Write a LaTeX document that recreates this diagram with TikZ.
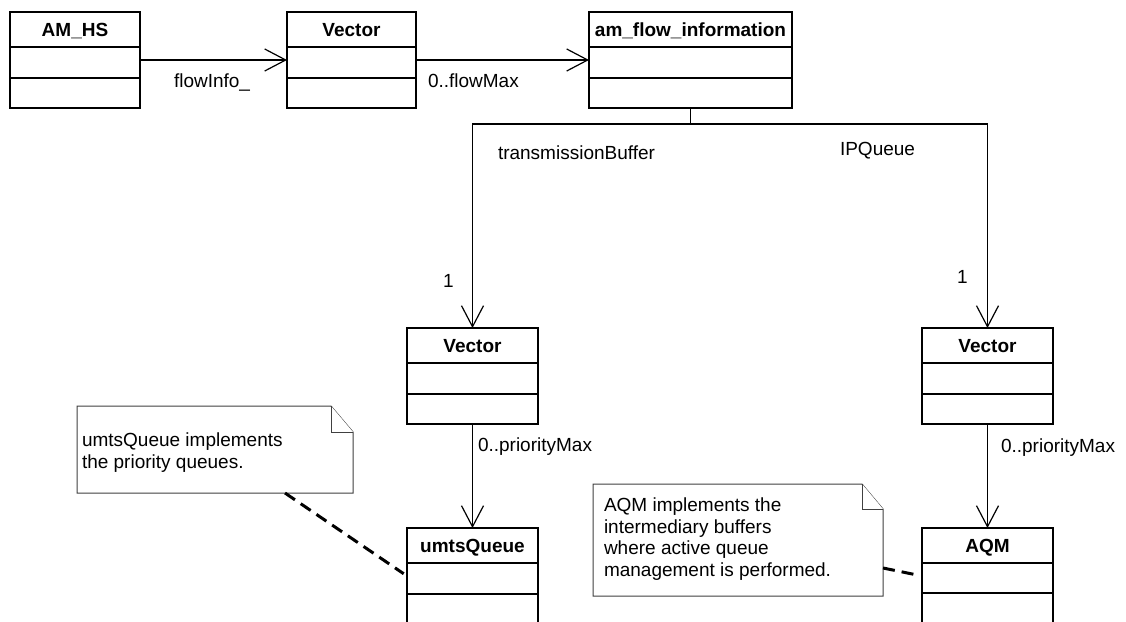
\documentclass[tikz,border=0pt]{standalone}
\usepackage{fontspec}
\setmainfont{Liberation Sans}
\usetikzlibrary{arrows.meta}
\tikzset{
  every node/.style={font=\fontsize{19}{21.5}\selectfont, inner sep=0pt, outer sep=0pt},
  clsbox/.style={draw=black, line width=2pt, fill=white, minimum height=96pt},
  clstitle/.style={font=\fontsize{19}{21.5}\selectfont\bfseries, anchor=base},
  clsline/.style={draw=black, line width=2pt},
  assoc/.style={draw=black, line width=1.2pt, -{Straight Barb[length=21pt,width=22pt]}},
  plainln/.style={draw=black, line width=1.2pt},
  lbl/.style={anchor=base west},
  notebox/.style={draw=none},
  noteln/.style={draw=black!75, line width=1pt, fill=white},
  notetxt/.style={anchor=north west, align=left},
  dashln/.style={draw=black, line width=3pt, dash pattern=on 12pt off 7pt},
}
\newcommand\umlcls[6]{%
  \node[clsbox, minimum width=#4pt, anchor=north west] (#1) at (#2,#3) {};
  \node[clstitle] (#1-t) at ([yshift=-24.5pt]#1.north) {#5};
  \draw[clsline] ([yshift=-35pt]#1.north west) -- ([yshift=-35pt]#1.north east);
  \draw[clsline] ([yshift=-#6pt]#1.north west) -- ([yshift=-#6pt]#1.north east);
}
\begin{document}
\begin{tikzpicture}[x=1pt,y=-1pt]
\useasboundingbox (0,0) rectangle (1126,621);
\clip (0,0) rectangle (1126,621);

% classes
\umlcls{amhs}{10}{12}{130}{AM\_HS}{66}
\umlcls{vecA}{287}{12}{129}{Vector}{66}
\umlcls{amfi}{589}{12}{203}{am\_flow\_information}{66}
\umlcls{vecB}{407}{328}{131}{Vector}{66}
\umlcls{vecC}{922}{328}{131}{Vector}{66}
\umlcls{umts}{407}{528}{131}{umtsQueue}{66}
\umlcls{aqm}{922}{528}{131}{AQM}{65}

% associations
\draw[assoc] (amhs.east) -- (vecA.west);
\draw[assoc] (vecA.east) -- (amfi.west);
\coordinate (junc) at (690.5,124);
\draw[plainln] (amfi.south) -- (junc);
\draw[assoc] (junc) -| (vecB.north);
\draw[assoc] (junc) -| (vecC.north);
\draw[assoc] (vecB.south) -- (umts.north);
\draw[assoc] (vecC.south) -- (aqm.north);

% labels
\node[lbl] (l1) at (174,87) {flowInfo\_};
\node[lbl] (l2) at (428,87) {0..flowMax};
\node[lbl] (l3) at (498,159) {transmissionBuffer};
\node[lbl] (l4) at (840,155) {IPQueue};
\node[lbl] (l5) at (443,287) {1};
\node[lbl] (l6) at (957,283) {1};
\node[lbl] (l7) at (478,451) {0..priorityMax};
\node[lbl] (l8) at (1001,452) {0..priorityMax};

% note 1
\node[notebox, minimum width=276pt, minimum height=87pt, anchor=north west] (note1) at (77,406) {};
\draw[noteln] (note1.north west) -- ([xshift=-22pt]note1.north east) -- ([yshift=-26pt]note1.north east) -- (note1.south east) -- (note1.south west) -- cycle;
\draw[noteln] ([xshift=-22pt]note1.north east) -- ([xshift=-22pt,yshift=-26pt]note1.north east) -- ([yshift=-26pt]note1.north east);
\node[notetxt] (note1t) at (82,433) {umtsQueue implements\\the priority queues.};
\coordinate (n1p) at ([xshift=208pt]note1.south west);
\draw[dashln, shorten >=4pt] (n1p) -- (umts.west);

% note 2
\node[notebox, minimum width=290pt, minimum height=112pt, anchor=north west] (note2) at (593,484) {};
\draw[noteln] (note2.north west) -- ([xshift=-21pt]note2.north east) -- ([yshift=-25pt]note2.north east) -- (note2.south east) -- (note2.south west) -- cycle;
\draw[noteln] ([xshift=-21pt]note2.north east) -- ([xshift=-21pt,yshift=-25pt]note2.north east) -- ([yshift=-25pt]note2.north east);
\node[notetxt] (note2t) at (604,498) {AQM implements the\\intermediary buffers\\where active queue\\management is performed.};
\coordinate (n2p) at ([yshift=-84pt]note2.north east);
\draw[dashln, shorten >=4pt] (n2p) -- (aqm.west);
\end{tikzpicture}
\end{document}
